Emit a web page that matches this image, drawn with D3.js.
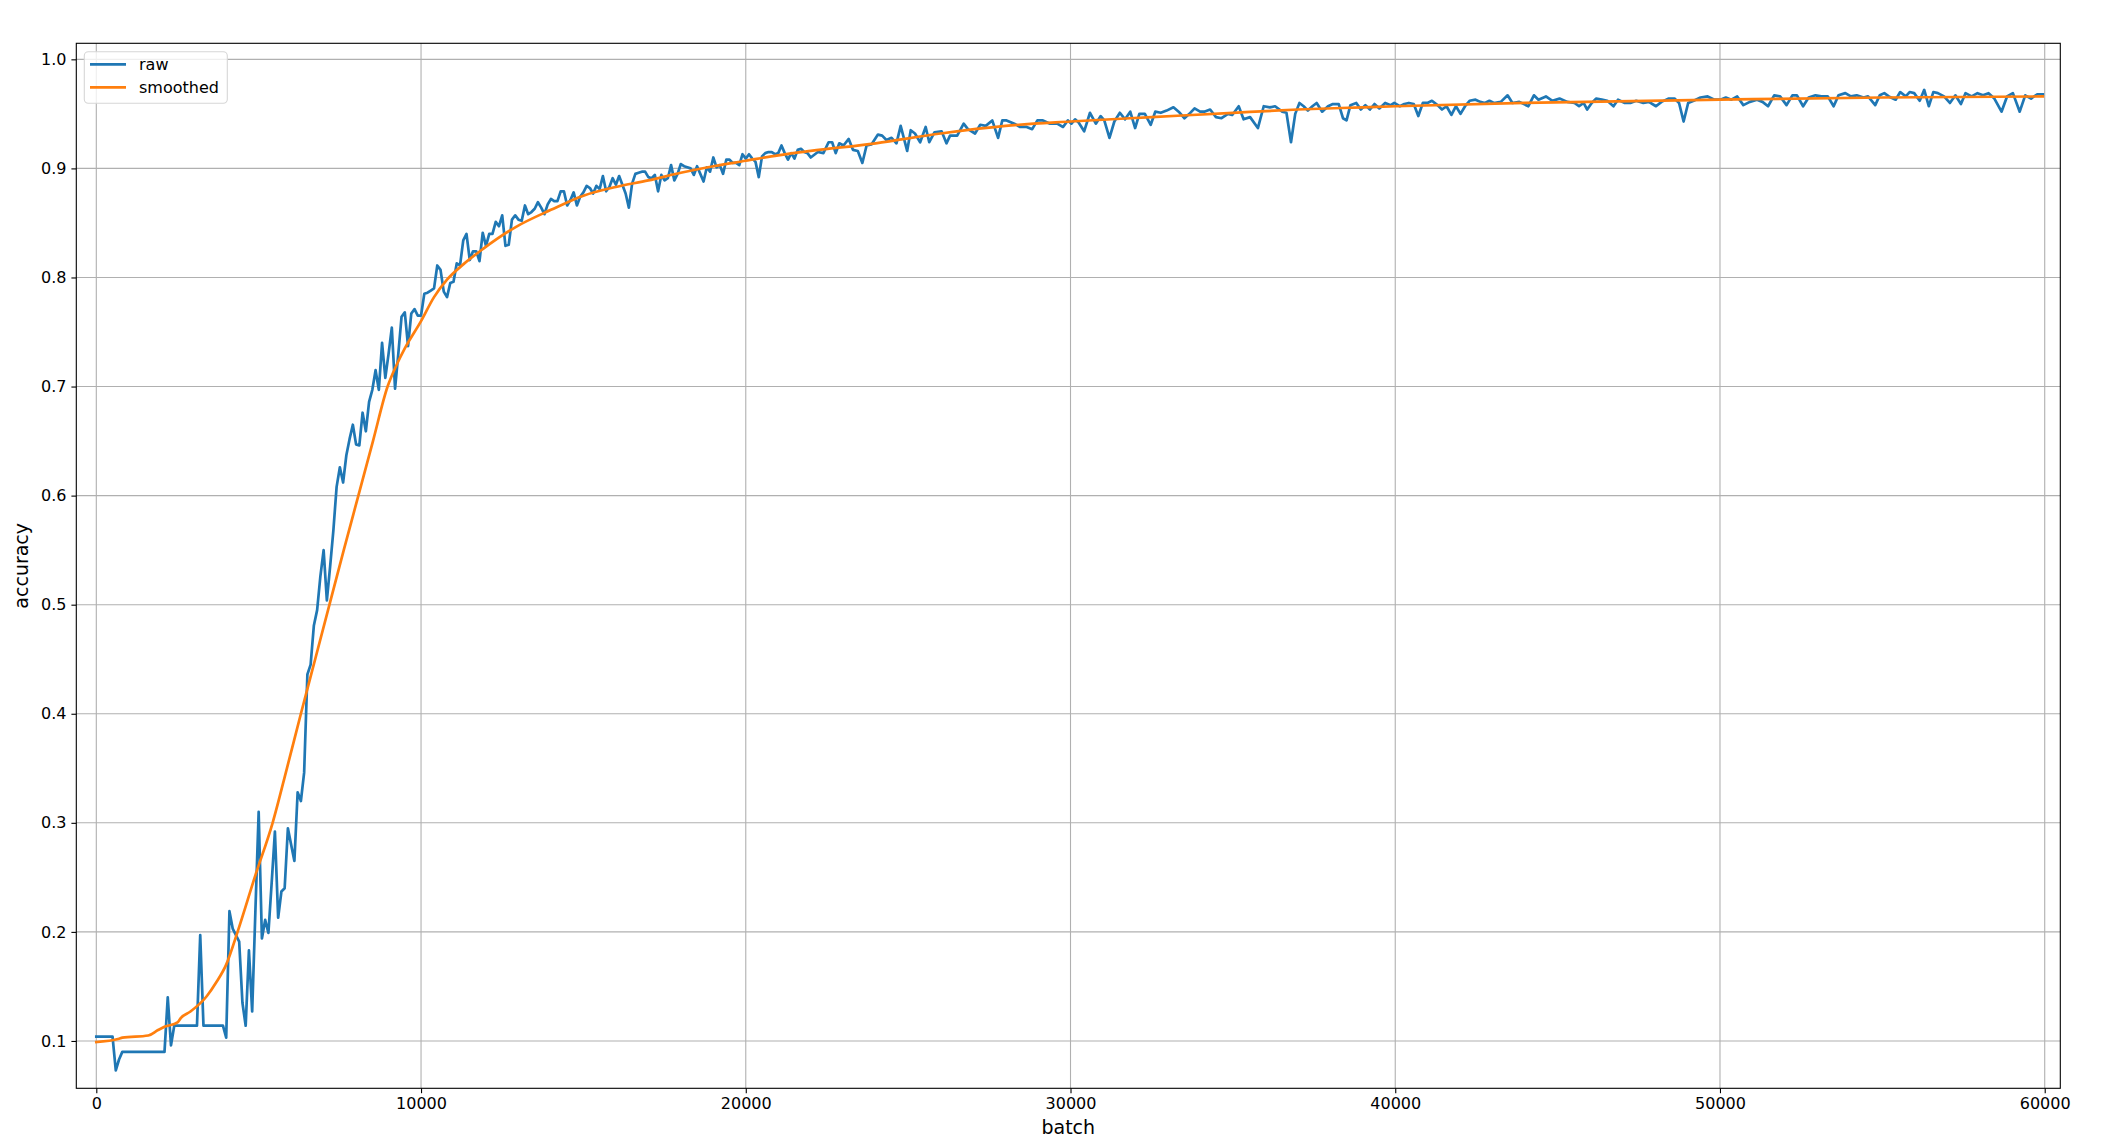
<!DOCTYPE html>
<html>
<head>
<meta charset="utf-8">
<script src="https://cdn.jsdelivr.net/npm/d3@7"></script>
<style>
  html, body { margin: 0; padding: 0; background: #fff; }
  svg { display: block; font-family: "DejaVu Sans", sans-serif; }
</style>
</head>
<body>
<svg id="main" width="2116" height="1148"></svg>
<script>
// raw accuracy, warm-up and steep rise, one value every 100 batches from 0
const rawStep = 100;
const rawStart = [
  0.104, 0.104, 0.104, 0.104, 0.104, 0.104, 0.073, 0.083, 0.090, 0.090,
  0.090, 0.090, 0.090, 0.090, 0.090, 0.090, 0.090, 0.090, 0.090, 0.090,
  0.090, 0.090, 0.140, 0.096, 0.114, 0.114, 0.114, 0.114, 0.114, 0.114,
  0.114, 0.114, 0.197, 0.114, 0.114, 0.114, 0.114, 0.114, 0.114, 0.114,
  0.103, 0.219, 0.203, 0.197, 0.191, 0.135, 0.114, 0.183, 0.127, 0.220,
  0.310, 0.194, 0.211, 0.199, 0.245, 0.292, 0.213, 0.237, 0.240, 0.295,
  0.280, 0.265, 0.328, 0.320, 0.346, 0.436, 0.445, 0.481, 0.495, 0.526,
  0.550, 0.504, 0.535, 0.568, 0.608, 0.626, 0.612, 0.637, 0.652, 0.665,
  0.647, 0.646, 0.676, 0.659, 0.686, 0.697, 0.715, 0.697, 0.740, 0.708,
  0.730, 0.754, 0.698, 0.730, 0.764, 0.768, 0.737, 0.767, 0.771, 0.765,
  0.765, 0.785, 0.786, 0.788, 0.790, 0.811, 0.807, 0.787, 0.782, 0.795,
  0.796, 0.813, 0.811, 0.834, 0.840, 0.816, 0.824, 0.824, 0.815, 0.841,
  0.829, 0.840, 0.840, 0.851, 0.847, 0.857, 0.829, 0.830, 0.853, 0.857,
  0.853, 0.852, 0.866, 0.858, 0.860, 0.863, 0.869, 0.864, 0.858, 0.867,
  0.872, 0.870, 0.870, 0.879, 0.879, 0.866, 0.871, 0.878, 0.866, 0.874,
  0.878, 0.884, 0.882, 0.877, 0.884, 0.881, 0.893, 0.879, 0.883, 0.891,
  0.885, 0.893, 0.885, 0.877, 0.864, 0.886, 0.895, 0.896, 0.897, 0.897,
  0.892, 0.891, 0.894, 0.879, 0.894, 0.889, 0.891, 0.903, 0.889, 0.895,
  0.904, 0.902, 0.901, 0.900, 0.894, 0.902, 0.895, 0.888, 0.901, 0.897,
  0.910, 0.901, 0.903, 0.895, 0.908, 0.908, 0.905, 0.905, 0.903, 0.913,
  0.909, 0.913, 0.909, 0.906, 0.892, 0.911, 0.914, 0.915, 0.915, 0.913,
  0.914, 0.921, 0.914, 0.908, 0.914, 0.909, 0.917, 0.918, 0.915, 0.914,
  0.910
];

// raw accuracy after 22000 batches, [batch, accuracy]
const rawLate = [
  [22220, 0.915], [22390, 0.914], [22550, 0.924], [22660, 0.924], [22770, 0.914],
  [22880, 0.923], [23010, 0.921], [23170, 0.927], [23300, 0.917], [23450, 0.916],
  [23590, 0.905], [23720, 0.921], [23870, 0.922], [24070, 0.931], [24200, 0.930],
  [24330, 0.926], [24490, 0.928], [24640, 0.923], [24770, 0.939], [24970, 0.916],
  [25080, 0.935], [25210, 0.932], [25370, 0.924], [25540, 0.938], [25650, 0.924],
  [25810, 0.933], [26030, 0.934], [26180, 0.923], [26290, 0.930], [26510, 0.930],
  [26710, 0.941], [26840, 0.936], [27060, 0.932], [27220, 0.940], [27390, 0.939],
  [27590, 0.944], [27770, 0.928], [27900, 0.944], [28030, 0.944], [28270, 0.941],
  [28450, 0.938], [28650, 0.938], [28820, 0.936], [28980, 0.944], [29150, 0.944],
  [29370, 0.941], [29590, 0.941], [29770, 0.938], [29920, 0.944], [30030, 0.941],
  [30140, 0.945], [30250, 0.942], [30420, 0.934], [30600, 0.951], [30780, 0.941],
  [30930, 0.948], [31040, 0.944], [31200, 0.928], [31350, 0.943], [31520, 0.951],
  [31680, 0.945], [31840, 0.952], [31990, 0.937], [32120, 0.950], [32290, 0.950],
  [32470, 0.940], [32610, 0.952], [32780, 0.951], [32960, 0.953], [33170, 0.956],
  [33330, 0.952], [33510, 0.946], [33660, 0.950], [33820, 0.955], [33990, 0.952],
  [34120, 0.952], [34300, 0.954], [34480, 0.947], [34650, 0.946], [34850, 0.950],
  [34980, 0.949], [35180, 0.957], [35330, 0.945], [35530, 0.947], [35770, 0.937],
  [35950, 0.957], [36140, 0.956], [36300, 0.957], [36520, 0.952], [36650, 0.951],
  [36790, 0.924], [36920, 0.950], [37050, 0.960], [37180, 0.957], [37310, 0.953],
  [37450, 0.957], [37580, 0.960], [37750, 0.952], [37930, 0.957], [38080, 0.959],
  [38260, 0.959], [38390, 0.946], [38500, 0.944], [38620, 0.958], [38800, 0.960],
  [38940, 0.954], [39080, 0.958], [39220, 0.954], [39360, 0.959], [39510, 0.955],
  [39690, 0.960], [39860, 0.958], [39970, 0.960], [40140, 0.957], [40280, 0.959],
  [40420, 0.960], [40570, 0.959], [40710, 0.948], [40850, 0.960], [40990, 0.960],
  [41130, 0.962], [41300, 0.958], [41440, 0.954], [41580, 0.957], [41730, 0.949],
  [41870, 0.957], [42010, 0.950], [42150, 0.957], [42290, 0.962], [42470, 0.963],
  [42620, 0.961], [42760, 0.960], [42900, 0.962], [43040, 0.960], [43250, 0.961],
  [43460, 0.967], [43610, 0.960], [43820, 0.961], [44100, 0.957], [44270, 0.967],
  [44410, 0.963], [44640, 0.966], [44840, 0.962], [45060, 0.964], [45300, 0.961],
  [45520, 0.960], [45660, 0.957], [45800, 0.960], [45910, 0.954], [46050, 0.960],
  [46190, 0.964], [46360, 0.963], [46530, 0.962], [46720, 0.957], [46860, 0.963],
  [47070, 0.960], [47240, 0.960], [47420, 0.962], [47640, 0.960], [47810, 0.961],
  [48030, 0.957], [48200, 0.961], [48410, 0.964], [48600, 0.964], [48740, 0.960],
  [48880, 0.943], [49020, 0.960], [49190, 0.962], [49400, 0.965], [49620, 0.966],
  [49830, 0.963], [50010, 0.963], [50180, 0.965], [50350, 0.963], [50530, 0.966],
  [50720, 0.958], [50920, 0.961], [51140, 0.963], [51310, 0.961], [51480, 0.957],
  [51670, 0.967], [51850, 0.966], [52050, 0.958], [52230, 0.967], [52370, 0.967],
  [52560, 0.957], [52730, 0.965], [52940, 0.967], [53120, 0.966], [53320, 0.966],
  [53500, 0.957], [53650, 0.967], [53860, 0.969], [54030, 0.966], [54210, 0.967],
  [54420, 0.965], [54560, 0.966], [54780, 0.958], [54920, 0.967], [55060, 0.969],
  [55200, 0.966], [55410, 0.963], [55550, 0.970], [55720, 0.966], [55840, 0.970],
  [55980, 0.969], [56150, 0.962], [56290, 0.972], [56430, 0.957], [56570, 0.970],
  [56710, 0.969], [56900, 0.966], [57080, 0.960], [57250, 0.967], [57420, 0.959],
  [57560, 0.969], [57750, 0.966], [57930, 0.969], [58100, 0.967], [58270, 0.969],
  [58450, 0.964], [58670, 0.952], [58840, 0.966], [59020, 0.969], [59230, 0.952],
  [59400, 0.967], [59580, 0.964], [59770, 0.968], [59940, 0.968]
];

// smoothed accuracy, [batch, accuracy]
const smoothed = [
  [0, 0.099], [700, 0.102], [800, 0.103], [1600, 0.105], [1900, 0.110],
  [2100, 0.113], [2500, 0.117], [2600, 0.121], [2900, 0.127], [3400, 0.141],
  [3700, 0.154], [4000, 0.170], [4350, 0.200], [4900, 0.252], [5430, 0.300],
  [5870, 0.350], [6300, 0.400], [6740, 0.450], [7180, 0.500], [7620, 0.550],
  [8070, 0.600], [8520, 0.650], [8970, 0.700], [9250, 0.720], [9500, 0.735],
  [10000, 0.760], [10400, 0.782], [10800, 0.798], [11300, 0.812], [11900, 0.826],
  [12900, 0.846], [14000, 0.862], [15000, 0.875], [16000, 0.883], [17000, 0.889],
  [18000, 0.896], [19000, 0.902], [20000, 0.907], [21000, 0.912], [22000, 0.916],
  [24000, 0.923], [26000, 0.932], [28000, 0.939], [30000, 0.943], [32500, 0.947],
  [35000, 0.951], [37000, 0.954], [39000, 0.956], [40000, 0.957], [44000, 0.960],
  [50000, 0.963], [55000, 0.965], [59940, 0.966]
];

const xTicks = [0, 10000, 20000, 30000, 40000, 50000, 60000];
const yTicks = [0.1, 0.2, 0.3, 0.4, 0.5, 0.6, 0.7, 0.8, 0.9, 1.0];
const seriesNames = ["raw", "smoothed"];
const seriesColors = ["#1f77b4", "#ff7f0e"];

/////////////////////////////////////////////////////////

const raw = rawStart.map((v, i) => [i * rawStep, v]).concat(rawLate);

const plot = { left: 76.3, right: 2060.3, top: 43.3, bottom: 1088.3 };

const x = d3.scaleLinear().domain([-616, 60480]).range([plot.left, plot.right]);
const y = d3.scaleLinear().domain([0.0566, 1.0147]).range([plot.bottom, plot.top]);

const svg = d3.select("#main");

// grid
const grid = svg.append("g").attr("stroke", "#b0b0b0").attr("stroke-width", 1.1);
grid.selectAll(".vgrid")
    .data(xTicks)
    .enter()
    .append("line")
    .attr("x1", d => x(d)).attr("x2", d => x(d))
    .attr("y1", plot.top).attr("y2", plot.bottom);
grid.selectAll(".hgrid")
    .data(yTicks)
    .enter()
    .append("line")
    .attr("x1", plot.left).attr("x2", plot.right)
    .attr("y1", d => y(d)).attr("y2", d => y(d));

// lines
const line = d3.line().x(d => x(d[0])).y(d => y(d[1]));

svg.append("path")
    .datum(raw)
    .attr("fill", "none")
    .attr("stroke", seriesColors[0])
    .attr("stroke-width", 2.7)
    .attr("stroke-linejoin", "round")
    .attr("stroke-linecap", "square")
    .attr("d", line);

svg.append("path")
    .datum(smoothed)
    .attr("fill", "none")
    .attr("stroke", seriesColors[1])
    .attr("stroke-width", 2.7)
    .attr("stroke-linejoin", "round")
    .attr("stroke-linecap", "square")
    .attr("d", line.curve(d3.curveMonotoneX));

// axes
const xAxis = svg.append("g")
    .attr("transform", `translate(0,${plot.bottom})`)
    .call(d3.axisBottom(x).tickValues(xTicks).tickFormat(d3.format("d"))
        .tickSize(4.9).tickPadding(4.9).tickSizeOuter(0));
const yAxis = svg.append("g")
    .attr("transform", `translate(${plot.left},0)`)
    .call(d3.axisLeft(y).tickValues(yTicks).tickFormat(d3.format(".1f"))
        .tickSize(4.9).tickPadding(4.9).tickSizeOuter(0));

[xAxis, yAxis].forEach(g => {
    g.select(".domain").remove();
    g.selectAll(".tick line").attr("stroke", "#000").attr("stroke-width", 1.1);
    g.selectAll(".tick text")
        .attr("fill", "#000")
        .style("font-family", "'DejaVu Sans', sans-serif")
        .style("font-size", "16px");
});

// frame
svg.append("rect")
    .attr("x", plot.left).attr("y", plot.top)
    .attr("width", plot.right - plot.left)
    .attr("height", plot.bottom - plot.top)
    .attr("fill", "none")
    .attr("stroke", "#000")
    .attr("stroke-width", 1.1);

// axis labels
svg.append("text")
    .attr("x", (plot.left + plot.right) / 2)
    .attr("y", 1134)
    .attr("text-anchor", "middle")
    .style("font-size", "19px")
    .text("batch");

svg.append("text")
    .attr("transform", `translate(28,${(plot.top + plot.bottom) / 2}) rotate(-90)`)
    .attr("text-anchor", "middle")
    .style("font-size", "19px")
    .text("accuracy");

// legend
const legend = svg.append("g");
legend.append("rect")
    .attr("x", 84.3).attr("y", 51.7)
    .attr("width", 143).attr("height", 51.6)
    .attr("rx", 4)
    .attr("fill", "#fff").attr("fill-opacity", 0.8)
    .attr("stroke", "#d6d6d6").attr("stroke-width", 1.1);

const items = legend.selectAll(".item")
    .data(seriesNames)
    .enter()
    .append("g")
    .attr("transform", (d, i) => `translate(0,${64.3 + i * 23})`);
items.append("line")
    .attr("x1", 90).attr("x2", 126)
    .attr("stroke", (d, i) => seriesColors[i])
    .attr("stroke-width", 2.7);
items.append("text")
    .attr("x", 139)
    .attr("dy", "0.36em")
    .style("font-size", "16px")
    .text(d => d);
</script>
</body>
</html>
